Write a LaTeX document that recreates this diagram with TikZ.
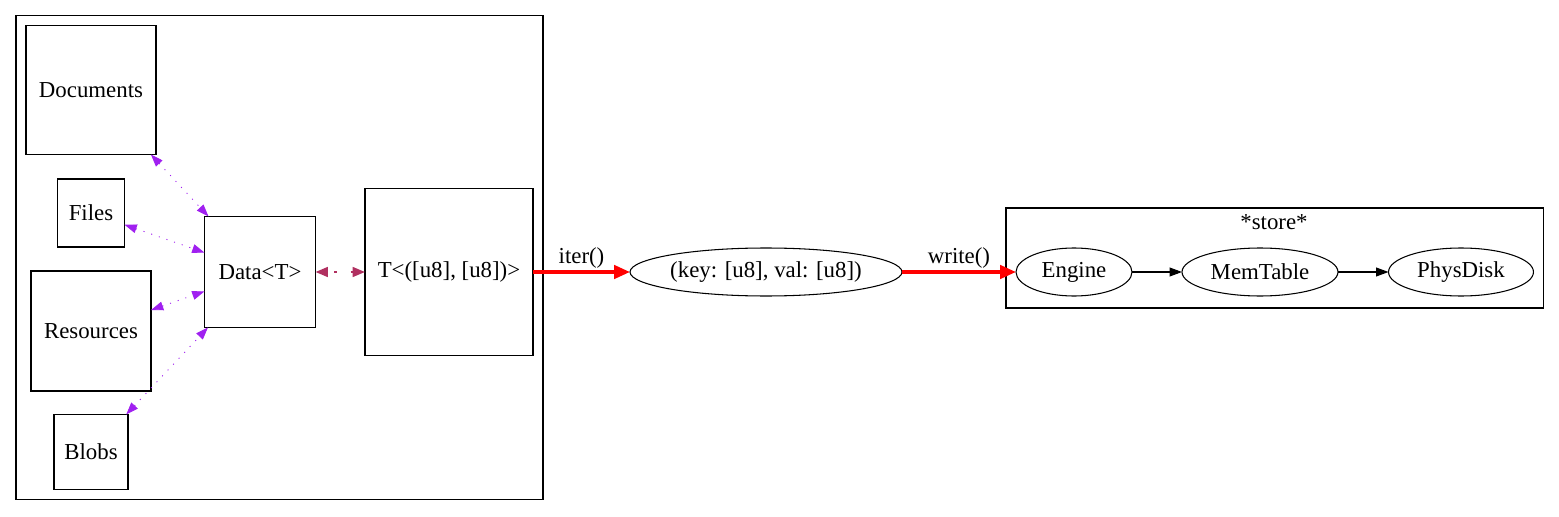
\documentclass[tikz,border=0pt]{standalone}
\usepackage{fontspec}
\setmainfont{Liberation Serif}
\usetikzlibrary{shapes,arrows.meta,positioning,fit}
\definecolor{gvpurple}{HTML}{A020F0}
\definecolor{gvmaroon}{HTML}{B03060}
\tikzstyle{part} = [draw,rectangle,line width=0.6pt,inner sep=0,outer sep=0]
\tikzstyle{record} = [draw,ellipse,line width=0.6pt,inner sep=0,outer sep=0,minimum height=0.96cm]
\tikzstyle{cluster} = [draw,rectangle,line width=0.6pt,inner sep=0.2cm,outer sep=0]
\tikzstyle{link} = [{Triangle[length=7pt,width=5pt]}-{Triangle[length=7pt,width=5pt]},gvpurple,line width=0.5pt,dash pattern=on 0.6pt off 4pt]
\tikzstyle{bond} = [{Triangle[length=7pt,width=5.5pt]}-{Triangle[length=7pt,width=5.5pt]},gvmaroon,line width=1.3pt,dash pattern=on 1.3pt off 8pt,dash phase=-4pt]
\tikzstyle{call} = [-{Triangle[length=9pt,width=7.5pt]},red,line width=2pt]
\tikzstyle{flow} = [-{Triangle[length=7pt,width=5pt]},line width=0.6pt]
\def \px {0.02cm}

\begin{document}
\begin{tikzpicture}[x=\px,y=-\px,font=\fontsize{13pt}{15pt}\selectfont]
      \useasboundingbox (0,0) rectangle (1559,517);
      % sources
      \node[part,minimum width=2.6cm,minimum height=2.58cm] (docs) at (91,90) {Documents};
      \node[part,minimum width=1.34cm,minimum height=1.36cm] (files) at (91,213) {Files};
      \node[part,minimum size=2.4cm] (res) at (91,331) {Resources};
      \node[part,minimum width=1.48cm,minimum height=1.5cm] (blobs) at (91,452) {Blobs};
      \node[part,minimum size=2.22cm] (data) at (260,272) {Data<T>};
      \node[part,minimum width=3.36cm,minimum height=3.34cm] (pair) at (449,272) {T<([u8], [u8])>};
      \node[cluster,fit=(docs)(blobs)(pair)] (src) {};
      \draw[link] (docs) -- (data);
      \draw[link] (files) -- (data);
      \draw[link] (res) -- (data);
      \draw[link] (blobs) -- (data);
      \draw[bond] (data) -- (pair);
      % key/value
      \node[record,minimum width=5.44cm] (kv) at (766,272) {(key: [u8], val: [u8])};
      \draw[call] (pair) -- (kv) node[midway,above,text=black,inner sep=1pt]{iter()};
      % store
      \node[record,minimum width=2.32cm] (engine) at (1074,272) {Engine};
      \node[record,minimum width=3.12cm] (mem) at (1260,272) {MemTable};
      \node[record,minimum width=2.9cm] (disk) at (1461,272) {PhysDisk};
      \node (storename) at (1274,222) {*store*};
      \coordinate (storetop) at (1274,220);
      \node[cluster,inner xsep=0.2cm,inner ysep=0.24cm,fit=(engine)(disk)(storetop)] (store) {};
      \draw[call] (kv) -- (engine) node[midway,above,text=black,inner sep=1pt]{write()};
      \draw[flow] (engine) -- (mem);
      \draw[flow] (mem) -- (disk);
    \end{tikzpicture}
\end{document}
